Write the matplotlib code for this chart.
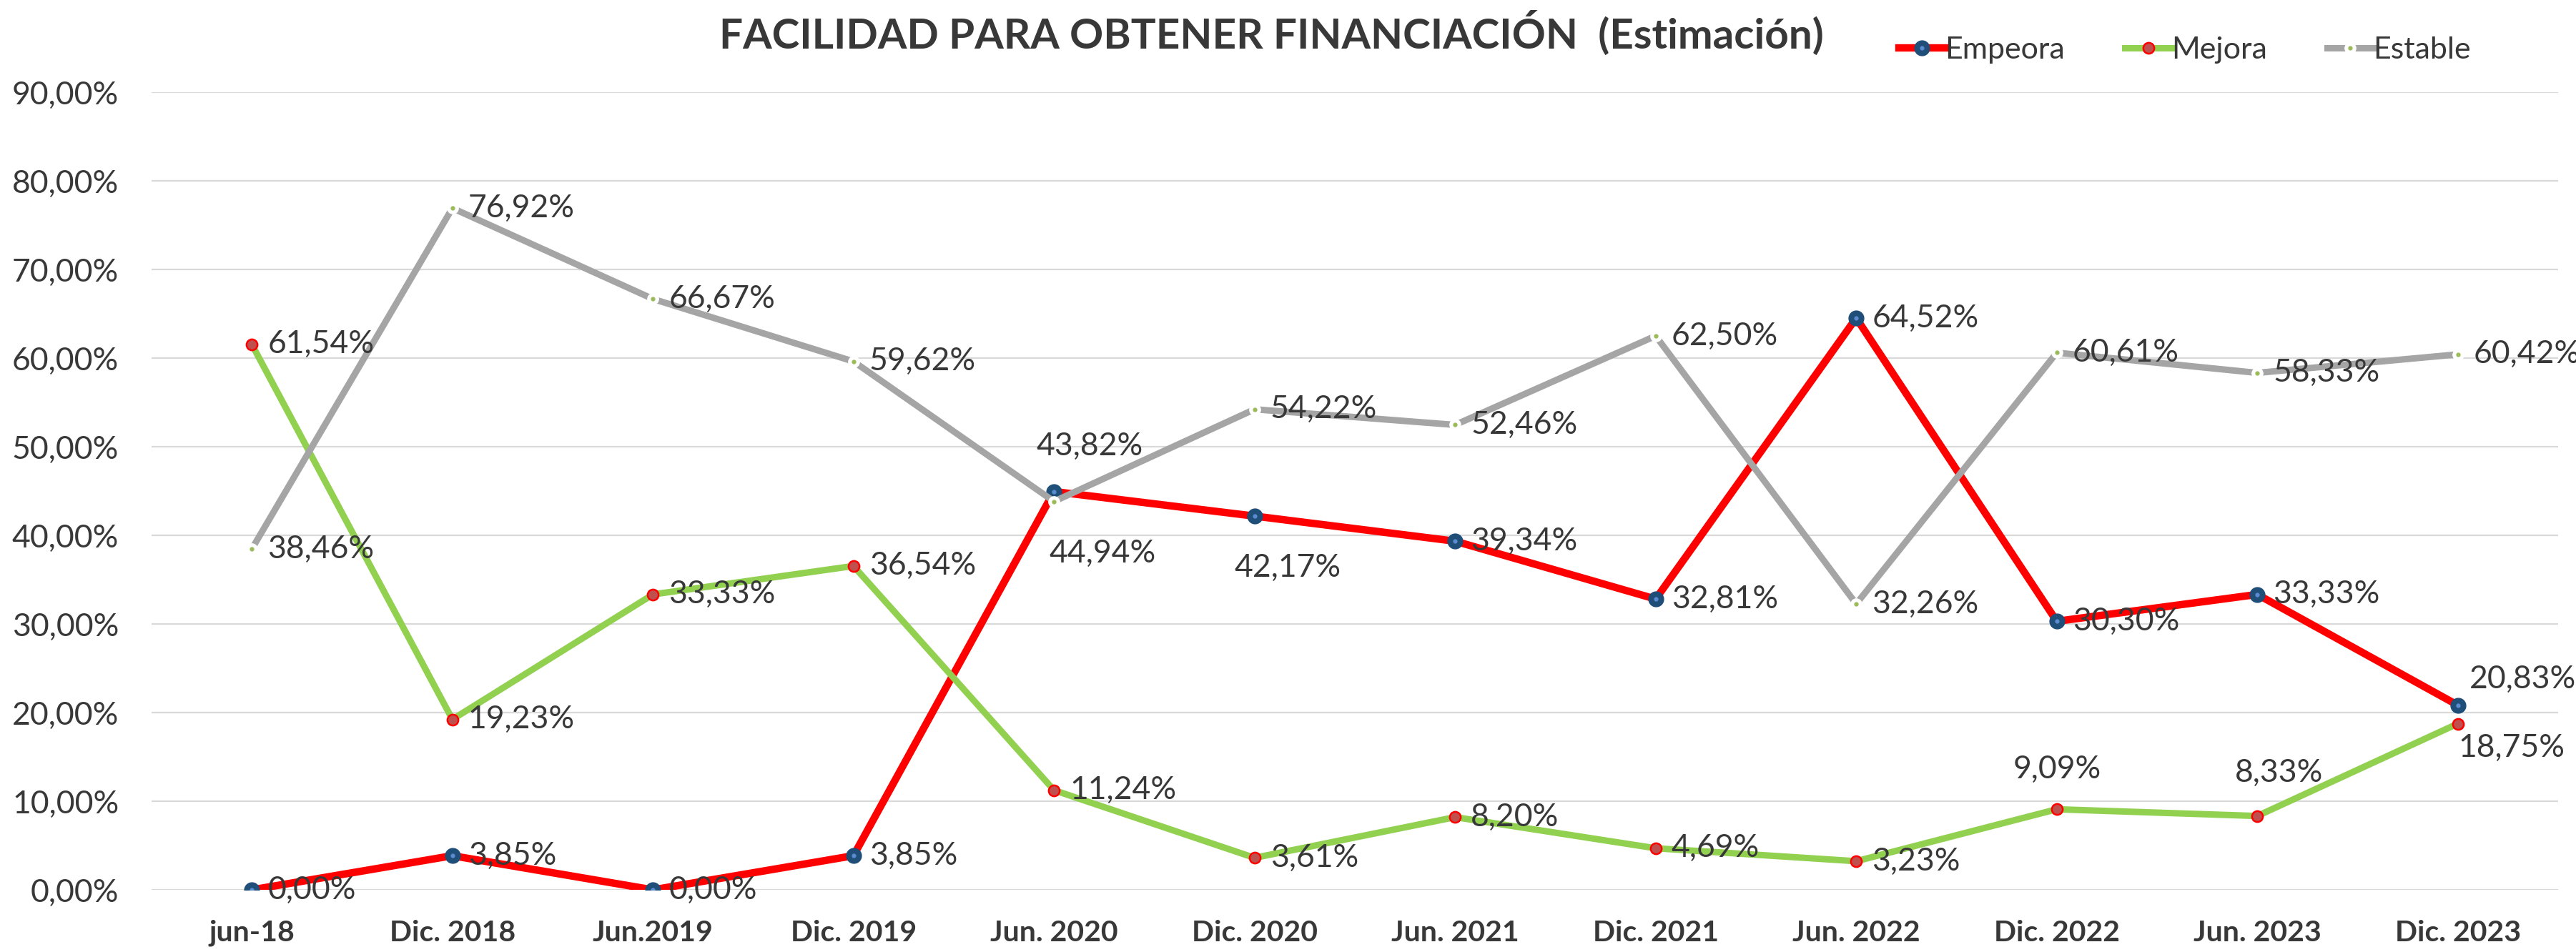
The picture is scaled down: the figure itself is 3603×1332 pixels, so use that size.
import matplotlib
matplotlib.use("Agg")
import matplotlib.pyplot as plt
from matplotlib.ticker import FuncFormatter
from matplotlib.legend_handler import HandlerTuple

# datos
periodos = ["jun-18", "Dic. 2018", "Jun.2019", "Dic. 2019", "Jun. 2020", "Dic. 2020",
            "Jun. 2021", "Dic. 2021", "Jun. 2022", "Dic. 2022", "Jun. 2023", "Dic. 2023"]
empeora = [0.00, 3.85, 0.00, 3.85, 44.94, 42.17, 39.34, 32.81, 64.52, 30.30, 33.33, 20.83]
mejora = [61.54, 19.23, 33.33, 36.54, 11.24, 3.61, 8.20, 4.69, 3.23, 9.09, 8.33, 18.75]
estable = [38.46, 76.92, 66.67, 59.62, 43.82, 54.22, 52.46, 62.50, 32.26, 60.61, 58.33, 60.42]

# posicion de etiquetas especiales (desplazamiento en pixeles, centro de la etiqueta)
esp_empeora = {4: (68, -87), 5: (46, -72), 11: (91, 36)}
esp_mejora = {9: (0, 56), 10: (30, 60), 11: (75, -34)}
esp_estable = {4: (50, 77)}

GRIS_TXT = "#383838"
plt.rcParams['font.family'] = ['Lato', 'DejaVu Sans']

fig = plt.figure(figsize=(36.03, 13.32), dpi=100)
ax = fig.add_axes([212/3603, 1 - 1245/1332, (3578-212)/3603, (1245-129)/1332])

x = list(range(len(periodos)))

l1, = ax.plot(x, empeora, color="#FF0000", lw=7.5, marker="o", ms=15,
              mfc="#1F4E79", mec="#1F4E79", zorder=3)
d1, = ax.plot(x, empeora, ls="none", marker="o", ms=3.5, mfc="#5B8BD0", mec="#5B8BD0", zorder=3.1)
l2, = ax.plot(x, mejora, color="#92D050", lw=6.5, marker="o", ms=11,
              mfc="#C0504D", mec="#FF0000", mew=1.8, zorder=4)
l3, = ax.plot(x, estable, color="#A5A5A5", lw=6.5, marker="o", ms=11,
              mfc="white", mec="white", zorder=5)
d3, = ax.plot(x, estable, ls="none", marker="o", ms=3.5, mfc="#9BBB59", mec="#9BBB59", zorder=5.1)


def etiquetas(valores, especiales):
    for i, v in enumerate(valores):
        txt = f"{v:.2f}%".replace(".", ",")
        if i in especiales:
            dx, dy = especiales[i]
            ax.annotate(txt, (i, v), xytext=(dx, dy), textcoords="offset pixels",
                        ha="center", va="center", fontsize=32, color=GRIS_TXT, zorder=6)
        else:
            ax.annotate(txt, (i, v), xytext=(22, 0), textcoords="offset pixels",
                        ha="left", va="center", fontsize=32, color=GRIS_TXT, zorder=6)


etiquetas(empeora, esp_empeora)
etiquetas(mejora, esp_mejora)
etiquetas(estable, esp_estable)

ax.set_xlim(-0.5, len(periodos) - 0.5)
ax.set_ylim(0, 90)
ax.set_yticks(range(0, 91, 10))
ax.yaxis.set_major_formatter(FuncFormatter(lambda v, p: f"{v:.2f}%".replace(".", ",")))
ax.set_xticks(x)
ax.set_xticklabels(periodos, fontsize=29.5, fontweight="bold", color=GRIS_TXT)
ax.tick_params(axis="y", labelsize=32, labelcolor=GRIS_TXT, length=0, pad=33)
ax.tick_params(axis="x", length=0, pad=30)
ax.grid(axis="y", color="#D9D9D9", lw=1.6)
ax.set_axisbelow(True)
for s in ax.spines.values():
    s.set_visible(False)

fig.text(1778/3603, 1 - 46/1332, "FACILIDAD PARA OBTENER FINANCIACIÓN  (Estimación)",
         ha="center", va="center", fontsize=42, fontweight="bold", color=GRIS_TXT)

fig.legend([(l1, d1), (l2,), (l3, d3)], ["Empeora", "Mejora", "Estable"],
           handler_map={tuple: HandlerTuple(ndivide=1)},
           loc="center", bbox_to_anchor=(3056/3603, 1 - 70/1332), ncol=3, frameon=False,
           fontsize=31, labelcolor=GRIS_TXT, handlelength=1.5, handletextpad=0.0,
           columnspacing=1.95)

fig.savefig("out.png", dpi=100, facecolor="white")
